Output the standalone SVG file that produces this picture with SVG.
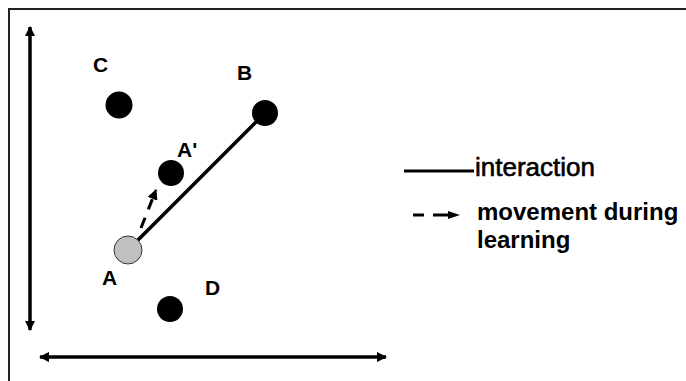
<svg xmlns="http://www.w3.org/2000/svg" width="686" height="381" viewBox="0 0 686 381">
<style>
.lbl{font-family:"Liberation Sans",Arial,sans-serif;font-weight:bold;font-size:21px;fill:#000}
.leg{font-family:"Liberation Sans",Arial,sans-serif;font-weight:bold;font-size:24px;fill:#000}
.leg2{font-family:"Liberation Sans",Arial,sans-serif;font-size:26px;fill:#000;stroke:#000;stroke-width:0.6}
.dot{fill:#000}
.axis{stroke:#000;stroke-width:3.5;fill:none}
</style>
<defs>
<marker id="ah" viewBox="0 0 10 10" refX="9" refY="5" markerWidth="3" markerHeight="3" orient="auto-start-reverse" markerUnits="strokeWidth">
<path d="M0,0 L10,5 L0,10 z" fill="#000"/>
</marker>
<marker id="ahs" viewBox="0 0 10 10" refX="9" refY="5" markerWidth="3.5" markerHeight="3.5" orient="auto" markerUnits="strokeWidth">
<path d="M0,0 L10,5 L0,10 z" fill="#000"/>
</marker>
</defs>
<rect width="686" height="381" fill="#fff"/>
<path d="M9,381 V9 H686" stroke="#222" stroke-width="2" fill="none"/>
<g id="connectors">
<line class="axis" x1="30" y1="27" x2="30" y2="330" marker-start="url(#ah)" marker-end="url(#ah)"/>
<line class="axis" x1="40" y1="357" x2="386" y2="357" marker-start="url(#ah)" marker-end="url(#ah)"/>
<line x1="133" y1="245" x2="265" y2="113" stroke="#000" stroke-width="3.5"/>
<path d="M141,228 L156,190" stroke="#000" stroke-width="3" stroke-dasharray="11,9" fill="none" marker-end="url(#ahs)"/>
</g>
<g id="node-C"><circle class="dot" cx="119" cy="105" r="13.5"/><text class="lbl" x="93" y="72">C</text></g>
<g id="node-B"><circle class="dot" cx="265" cy="113" r="13"/><text class="lbl" x="237" y="80">B</text></g>
<g id="node-A-prime"><circle class="dot" cx="171" cy="173" r="13"/><text class="lbl" x="177" y="157">A'</text></g>
<g id="node-A"><circle cx="128" cy="250" r="14" fill="#c0c0c0" stroke="#333" stroke-width="1"/><text class="lbl" x="102" y="285">A</text></g>
<g id="node-D"><circle class="dot" cx="170" cy="309" r="13"/><text class="lbl" x="205" y="295">D</text></g>
<g id="legend">
<line x1="404" y1="171" x2="474" y2="171" stroke="#000" stroke-width="3"/>
<text class="leg2" x="475" y="176">interaction</text>
<line x1="413" y1="215" x2="424" y2="215" stroke="#000" stroke-width="3"/>
<line x1="433" y1="215" x2="450" y2="215" stroke="#000" stroke-width="3"/>
<path d="M448,211 L460,215 L448,219 z" fill="#000"/>
<text class="leg" x="477" y="220">movement during</text>
<text class="leg" x="477" y="248">learning</text>
</g>
</svg>
